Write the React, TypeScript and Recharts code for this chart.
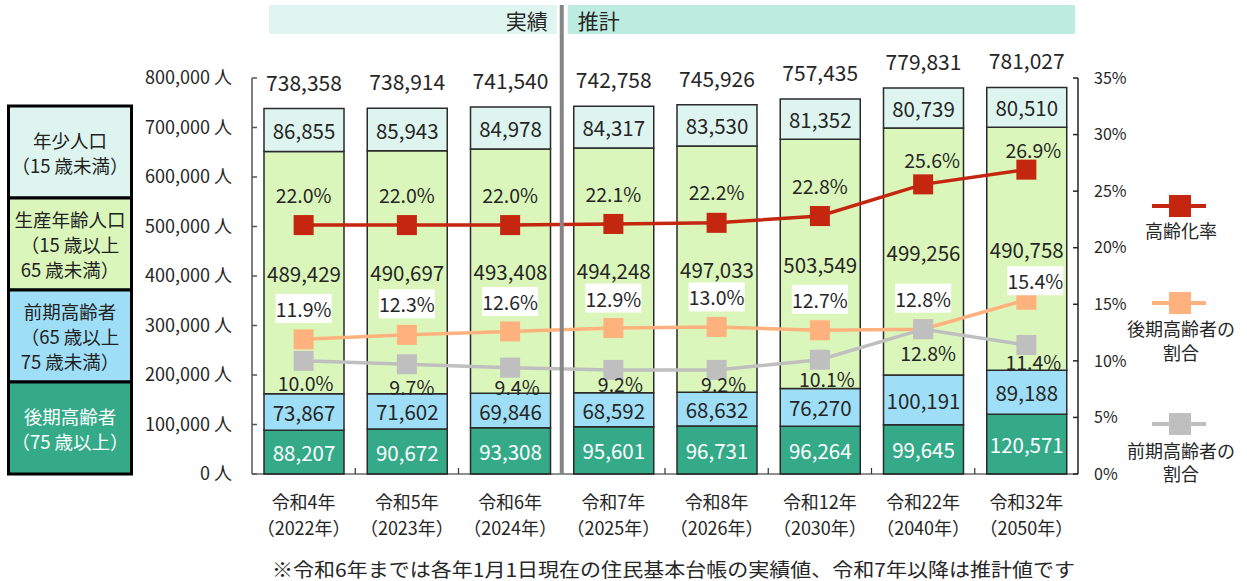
import React from "react";
import { ComposedChart, Bar, Line, XAxis, YAxis, LabelList } from "recharts";

// ---------- data ----------
const categories = ["令和4年", "令和5年", "令和6年", "令和7年", "令和8年", "令和12年", "令和22年", "令和32年"];
const yearLabels = ["（2022年）", "（2023年）", "（2024年）", "（2025年）", "（2026年）", "（2030年）", "（2040年）", "（2050年）"];
const late75 = [88207, 90672, 93308, 95601, 96731, 96264, 99645, 120571];
const early65 = [73867, 71602, 69846, 68592, 68632, 76270, 100191, 89188];
const working = [489429, 490697, 493408, 494248, 497033, 503549, 499256, 490758];
const youth = [86855, 85943, 84978, 84317, 83530, 81352, 80739, 80510];
const totals = [738358, 738914, 741540, 742758, 745926, 757435, 779831, 781027];
const agingRate = [22.0, 22.0, 22.0, 22.1, 22.2, 22.8, 25.6, 26.9];
const lateRatio = [11.9, 12.3, 12.6, 12.9, 13.0, 12.7, 12.8, 15.4];
const earlyRatio = [10.0, 9.7, 9.4, 9.2, 9.2, 10.1, 12.8, 11.4];
const leftTicks = [0, 100000, 200000, 300000, 400000, 500000, 600000, 700000, 800000];
const rightTicks = [0, 5, 10, 15, 20, 25, 30, 35];
const actualCount = 3; // 令和6年まで実績
const bannerActual = "実績";
const bannerForecast = "推計";
const footnote = "※令和6年までは各年1月1日現在の住民基本台帳の実績値、令和7年以降は推計値です";

const boxLegend = [
  { lines: ["年少人口", "（15 歳未満）"], fill: "#DEF5EF", text: "#222" },
  { lines: ["生産年齢人口", "（15 歳以上", "65 歳未満）"], fill: "#DBF6BA", text: "#222" },
  { lines: ["前期高齢者", "（65 歳以上", "75 歳未満）"], fill: "#9EDFF7", text: "#222" },
  { lines: ["後期高齢者", "（75 歳以上）"], fill: "#34AA89", text: "#fff" },
];
const lineLegend = [
  { lines: ["高齢化率"], color: "#C4260F" },
  { lines: ["後期高齢者の", "割合"], color: "#FFB27D" },
  { lines: ["前期高齢者の", "割合"], color: "#BFBFBF" },
];

const data = categories.map((c, i) => ({
  name: c,
  late75: late75[i],
  early65: early65[i],
  working: working[i],
  youth: youth[i],
  total: totals[i],
  rate: agingRate[i],
  lateR: lateRatio[i],
  earlyR: earlyRatio[i],
}));

// ---------- layout ----------
const W = 1247;
const H = 581;
const PLOT_L = 252;
const PLOT_R = 1078;
const PLOT_T = 78;
const PLOT_B = 474;
const RIGHT_AXIS_W = 60;
const X_AXIS_H = 70;
const FONT = '"Noto Sans CJK JP", "Noto Sans", sans-serif';
const TXT = "#262626";
const BAR_STROKE = "#2a2a2a";

// label nudges (pixels) for the line data labels, as placed in the reference
const rateLabelDy = [-31, -31, -31, -30, -31, -31, -25, -20];
const rateLabelDx = [0, 0, 0, 0, 0, 0, 9, 7];
const lateLabelDy = [-31, -31, -30, -30, -30, -31, -31, -19];
const lateLabelDx = [0, 0, 0, 0, 0, 0, 0, 9];
const earlyLabelDy = [22, 22, 19, 14, 14, 19, 23, 16];
const earlyLabelDx = [2, 5, 7, 7, 7, 7, 5, 7];

const fmt = (v: number) => v.toLocaleString("en-US");

const XTick = (props: any) => {
  const { x, y, payload, index } = props;
  const band = (PLOT_R - PLOT_L) / categories.length;
  return (
    <g>
      <text x={x} y={y + 27} textAnchor="middle" dominantBaseline="central" fontSize={18} fill={TXT} fontFamily={FONT}>
        {payload.value}
      </text>
      <text x={x} y={y + 53} textAnchor="middle" dominantBaseline="central" fontSize={18} fill={TXT} fontFamily={FONT}>
        {yearLabels[index]}
      </text>
      {index < categories.length - 1 && (
        <line x1={x + band / 2} x2={x + band / 2} y1={y} y2={y - 6} stroke="#333" strokeWidth={1.2} />
      )}
    </g>
  );
};

const barLabel = (color: string) => (p: any) => {
  const { x, y, width, height, value } = p;
  return (
    <text
      x={x + width / 2}
      y={y + height / 2}
      textAnchor="middle"
      dominantBaseline="central"
      fontSize={20.5}
      fill={color}
      fontFamily={FONT}
    >
      {fmt(value)}
    </text>
  );
};

const totalLabel = (p: any) => {
  const { x, y, width, value } = p;
  return (
    <text x={x + width / 2} y={y - 27} textAnchor="middle" dominantBaseline="central" fontSize={21} fill={TXT} fontFamily={FONT}>
      {fmt(value)}
    </text>
  );
};

const lineLabel = (dys: number[], dxs: number[], boxed: boolean) => (p: any) => {
  const { x, y, value, index } = p;
  const cx = x + (dxs[index] ?? 0);
  const cy = y + (dys[index] ?? 0);
  return (
    <g>
      {boxed && <rect x={cx - 28} y={cy - 14.5} width={56} height={29} fill="#fff" />}
      <text x={cx} y={cy} textAnchor="middle" dominantBaseline="central" fontSize={19.5} fill={TXT} fontFamily={FONT}>
        {Number(value).toFixed(1)}%
      </text>
    </g>
  );
};

const squareDot = (color: string) => (p: any) => {
  const { cx, cy, index } = p;
  return <rect key={`d${index}`} x={cx - 10} y={cy - 10} width={20} height={20} fill={color} />;
};

export default function App() {
  const band = (PLOT_R - PLOT_L) / categories.length;
  const sepX = PLOT_L + band * actualCount;
  const boxH = (PLOT_B - 106) / boxLegend.length;
  const legendX = 1180;
  const legendMarkerY = [206, 303, 424];
  const legendTextY = [[230], [328, 352], [450, 473]];

  return (
    <div style={{ position: "absolute", left: 0, top: 0, width: W, height: H, background: "#fff", fontFamily: FONT }}>
      <ComposedChart
        width={W}
        height={H}
        data={data}
        margin={{ top: PLOT_T, right: W - PLOT_R - RIGHT_AXIS_W, bottom: H - PLOT_B - X_AXIS_H, left: 0 }}
        barSize={80}
      >
        <XAxis
          dataKey="name"
          height={X_AXIS_H}
          tickLine={false}
          tickSize={0}
          tickMargin={0}
          axisLine={{ stroke: "#222", strokeWidth: 1.2 }}
          tick={<XTick />}
          interval={0}
        />
        <YAxis
          yAxisId="left"
          width={PLOT_L}
          domain={[0, 800000]}
          ticks={leftTicks}
          interval={0}
          tickFormatter={(v: number) => `${fmt(v)} 人`}
          tickSize={-5}
          tickMargin={25}
          axisLine={{ stroke: "#555", strokeWidth: 1.5 }}
          tickLine={{ stroke: "#555", strokeWidth: 1.5 }}
          tick={{ fontSize: 18, fill: TXT, fontFamily: FONT }}
        />
        <YAxis
          yAxisId="right"
          orientation="right"
          width={RIGHT_AXIS_W}
          domain={[0, 35]}
          ticks={rightTicks}
          interval={0}
          tickFormatter={(v: number) => `${v}%`}
          tickSize={-5}
          tickMargin={21}
          axisLine={{ stroke: "#222", strokeWidth: 1.5 }}
          tickLine={{ stroke: "#222", strokeWidth: 1.5 }}
          tick={{ fontSize: 16, fill: TXT, fontFamily: FONT, textAnchor: "start" }}
        />
        <Bar yAxisId="left" dataKey="late75" stackId="a" fill={boxLegend[3].fill} stroke={BAR_STROKE} strokeWidth={1.5} isAnimationActive={false}>
          <LabelList dataKey="late75" content={barLabel("#fff")} />
        </Bar>
        <Bar yAxisId="left" dataKey="early65" stackId="a" fill={boxLegend[2].fill} stroke={BAR_STROKE} strokeWidth={1.5} isAnimationActive={false}>
          <LabelList dataKey="early65" content={barLabel(TXT)} />
        </Bar>
        <Bar yAxisId="left" dataKey="working" stackId="a" fill={boxLegend[1].fill} stroke={BAR_STROKE} strokeWidth={1.5} isAnimationActive={false}>
          <LabelList dataKey="working" content={barLabel(TXT)} />
        </Bar>
        <Bar yAxisId="left" dataKey="youth" stackId="a" fill={boxLegend[0].fill} stroke={BAR_STROKE} strokeWidth={1.5} isAnimationActive={false}>
          <LabelList dataKey="youth" content={barLabel(TXT)} />
          <LabelList dataKey="total" content={totalLabel} />
        </Bar>
        <Line
          yAxisId="right"
          dataKey="rate"
          stroke={lineLegend[0].color}
          strokeWidth={3.5}
          dot={squareDot(lineLegend[0].color)}
          activeDot={false}
          isAnimationActive={false}
        >
          <LabelList dataKey="rate" content={lineLabel(rateLabelDy, rateLabelDx, false)} />
        </Line>
        <Line
          yAxisId="right"
          dataKey="lateR"
          stroke={lineLegend[1].color}
          strokeWidth={3.5}
          dot={squareDot(lineLegend[1].color)}
          activeDot={false}
          isAnimationActive={false}
        >
          <LabelList dataKey="lateR" content={lineLabel(lateLabelDy, lateLabelDx, true)} />
        </Line>
        <Line
          yAxisId="right"
          dataKey="earlyR"
          stroke={lineLegend[2].color}
          strokeWidth={3.5}
          dot={squareDot(lineLegend[2].color)}
          activeDot={false}
          isAnimationActive={false}
        >
          <LabelList dataKey="earlyR" content={lineLabel(earlyLabelDy, earlyLabelDx, false)} />
        </Line>
      </ComposedChart>

      <svg
        width={W}
        height={H}
        style={{ position: "absolute", left: 0, top: 0, pointerEvents: "none" }}
        fontFamily={FONT}
      >
        {/* banners */}
        <rect x={269} y={5} width={sepX - 5 - 269} height={29} fill="#DFF5EF" />
        <rect x={sepX + 6} y={5} width={1075 - sepX - 6} height={29} fill="#BCEBE0" />
        <text x={sepX - 14} y={20} textAnchor="end" dominantBaseline="central" fontSize={21} fill={TXT}>
          {bannerActual}
        </text>
        <text x={sepX + 16} y={20} textAnchor="start" dominantBaseline="central" fontSize={21} fill={TXT}>
          {bannerForecast}
        </text>
        {/* separator */}
        <line x1={sepX} x2={sepX} y1={5} y2={PLOT_B} stroke="#858585" strokeWidth={4} />

        {/* left box legend */}
        {boxLegend.map((b, i) => {
          const y0 = 106 + i * boxH;
          const cy = y0 + boxH / 2;
          const n = b.lines.length;
          return (
            <g key={i}>
              <rect x={8.5} y={y0} width={123} height={boxH} fill={b.fill} stroke="#000" strokeWidth={3} />
              {b.lines.map((t, j) => (
                <text
                  key={j}
                  x={70}
                  y={cy + (j - (n - 1) / 2) * 25}
                  textAnchor="middle"
                  dominantBaseline="central"
                  fontSize={18.5}
                  fill={b.text}
                >
                  {t}
                </text>
              ))}
            </g>
          );
        })}

        {/* right line legend */}
        {lineLegend.map((l, i) => (
          <g key={i}>
            <line x1={legendX - 28} x2={legendX + 26} y1={legendMarkerY[i]} y2={legendMarkerY[i]} stroke={l.color} strokeWidth={4} />
            <rect x={legendX - 11} y={legendMarkerY[i] - 11} width={22} height={22} fill={l.color} />
            {l.lines.map((t, j) => (
              <text key={j} x={legendX + 1} y={legendTextY[i][j]} textAnchor="middle" dominantBaseline="central" fontSize={18} fill={TXT}>
                {t}
              </text>
            ))}
          </g>
        ))}

        {/* footnote */}
        <text x={272} y={568} dominantBaseline="central" fontSize={19} fill={TXT} textLength={803} lengthAdjust="spacingAndGlyphs">
          {footnote}
        </text>
      </svg>
    </div>
  );
}
